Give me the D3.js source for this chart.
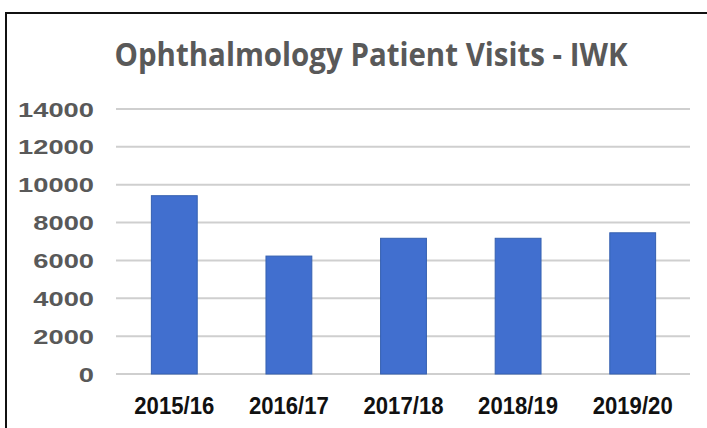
<!DOCTYPE html>
<html>
<head>
<meta charset="utf-8">
<script src="https://cdn.jsdelivr.net/npm/d3@7"></script>
<style>
  html, body { margin: 0; padding: 0; background: #fff; }
  #chart { width: 707px; height: 428px; }
</style>
</head>
<body>
<div id="chart"></div>
<script>
// chart data
var years = ['2015/16', '2016/17', '2017/18', '2018/19', '2019/20'];
var visits = [9420, 6230, 7170, 7170, 7460];
var yTicks = [0, 2000, 4000, 6000, 8000, 10000, 12000, 14000];

var width = 707, height = 428;

var svg = d3.select('#chart').append('svg')
    .attr('width', width)
    .attr('height', height);

// frame (top and left edges visible)
svg.append('line')
    .attr('x1', 6).attr('y1', 13).attr('x2', width).attr('y2', 13)
    .attr('stroke', '#111').attr('stroke-width', 2);
svg.append('line')
    .attr('x1', 6).attr('y1', 12).attr('x2', 6).attr('y2', height)
    .attr('stroke', '#111').attr('stroke-width', 2);

var x = d3.scaleBand()
    .domain(years)
    .range([117, 690])
    .paddingInner(0.6)
    .paddingOuter(0.3);

var y = d3.scaleLinear()
    .domain([0, 14000])
    .range([374, 109]);

// gridlines
svg.append('g')
    .selectAll('line')
    .data(yTicks)
    .enter().append('line')
    .attr('x1', 116).attr('x2', 690)
    .attr('y1', d => y(d)).attr('y2', d => y(d))
    .attr('stroke', '#cfcfcf')
    .attr('stroke-width', 2);

// y labels, stretched a little sideways like the original
var yLab = svg.append('g')
    .selectAll('text')
    .data(yTicks)
    .enter().append('text')
    .attr('x', 94)
    .attr('y', d => y(d) + 7.5)
    .attr('text-anchor', 'end')
    .style('font-family', 'Liberation Sans, Arial, sans-serif')
    .style('font-weight', 'bold')
    .style('font-size', '21px')
    .style('fill', '#595959')
    .text(d => d);
yLab.each(function () {
    var w = this.getComputedTextLength();
    d3.select(this).attr('textLength', w * 1.3).attr('lengthAdjust', 'spacingAndGlyphs');
});

// bars
svg.append('g')
    .selectAll('rect')
    .data(visits)
    .enter().append('rect')
    .attr('x', (d, i) => x(years[i]))
    .attr('y', d => y(d))
    .attr('width', x.bandwidth())
    .attr('height', d => y(0) - y(d))
    .attr('fill', '#416fcf')
    .attr('stroke', '#3560b0')
    .attr('stroke-width', 1);

// x labels
svg.append('g')
    .selectAll('text')
    .data(years)
    .enter().append('text')
    .attr('x', d => x(d) + x.bandwidth() / 2)
    .attr('y', 414)
    .attr('text-anchor', 'middle')
    .attr('textLength', 80)
    .attr('lengthAdjust', 'spacingAndGlyphs')
    .style('font-family', 'Liberation Sans, Arial, sans-serif')
    .style('font-weight', 'bold')
    .style('font-size', '23px')
    .style('fill', '#111')
    .text(d => d);

// title
svg.append('text')
    .attr('x', 371)
    .attr('y', 66)
    .attr('text-anchor', 'middle')
    .attr('textLength', 513)
    .attr('lengthAdjust', 'spacingAndGlyphs')
    .style('font-family', 'Open Sans, sans-serif')
    .style('font-weight', '700')
    .style('font-size', '32px')
    .style('fill', '#595959')
    .text('Ophthalmology  Patient Visits - IWK');
</script>
</body>
</html>
